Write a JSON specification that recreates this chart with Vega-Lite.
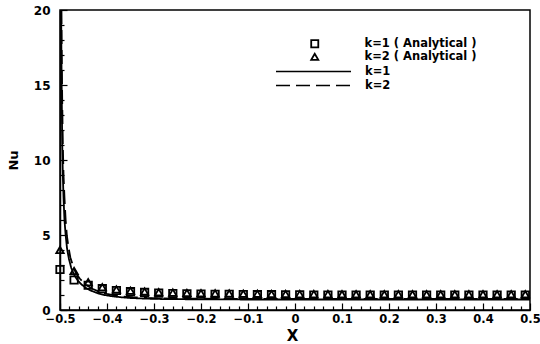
{
  "$schema": "https://vega.github.io/schema/vega-lite/v6.json",
  "width": 470,
  "height": 300,
  "autosize": {"type": "none"},
  "padding": {"left": 60, "top": 10, "right": 10, "bottom": 34},
  "background": "white",
  "config": {
    "view": {"stroke": "black", "strokeWidth": 1.5},
    "axis": {
      "labelFont": "DejaVu Sans", "labelFontWeight": "bold", "labelFontSize": 12, "labelColor": "black",
      "titleFont": "DejaVu Sans", "titleFontWeight": "bold", "titleColor": "black",
      "domainColor": "black", "domainWidth": 1.5, "tickColor": "black", "tickWidth": 1.2,
      "grid": false, "labelBound": false, "labelFlush": false
    },
    "legend": {
      "labelFont": "DejaVu Sans", "labelFontWeight": "bold", "labelFontSize": 11.5, "labelColor": "black",
      "padding": 0, "title": null
    }
  },
  "datasets": {
    "pts": [
      {"x": -0.5, "nu": 2.7, "series": "k=1 ( Analytical )"},
      {"x": -0.47, "nu": 2.0, "series": "k=1 ( Analytical )"},
      {"x": -0.44, "nu": 1.65, "series": "k=1 ( Analytical )"},
      {"x": -0.41, "nu": 1.42, "series": "k=1 ( Analytical )"},
      {"x": -0.38, "nu": 1.3, "series": "k=1 ( Analytical )"},
      {"x": -0.35, "nu": 1.22, "series": "k=1 ( Analytical )"},
      {"x": -0.32, "nu": 1.17, "series": "k=1 ( Analytical )"},
      {"x": -0.29, "nu": 1.13, "series": "k=1 ( Analytical )"},
      {"x": -0.26, "nu": 1.1, "series": "k=1 ( Analytical )"},
      {"x": -0.23, "nu": 1.08, "series": "k=1 ( Analytical )"},
      {"x": -0.2, "nu": 1.06, "series": "k=1 ( Analytical )"},
      {"x": -0.17, "nu": 1.05, "series": "k=1 ( Analytical )"},
      {"x": -0.14, "nu": 1.04, "series": "k=1 ( Analytical )"},
      {"x": -0.11, "nu": 1.03, "series": "k=1 ( Analytical )"},
      {"x": -0.08, "nu": 1.02, "series": "k=1 ( Analytical )"},
      {"x": -0.05, "nu": 1.02, "series": "k=1 ( Analytical )"},
      {"x": -0.02, "nu": 1.01, "series": "k=1 ( Analytical )"},
      {"x": 0.01, "nu": 1.01, "series": "k=1 ( Analytical )"},
      {"x": 0.04, "nu": 1.0, "series": "k=1 ( Analytical )"},
      {"x": 0.07, "nu": 1.0, "series": "k=1 ( Analytical )"},
      {"x": 0.1, "nu": 1.0, "series": "k=1 ( Analytical )"},
      {"x": 0.13, "nu": 1.0, "series": "k=1 ( Analytical )"},
      {"x": 0.16, "nu": 1.0, "series": "k=1 ( Analytical )"},
      {"x": 0.19, "nu": 1.0, "series": "k=1 ( Analytical )"},
      {"x": 0.22, "nu": 1.0, "series": "k=1 ( Analytical )"},
      {"x": 0.25, "nu": 1.0, "series": "k=1 ( Analytical )"},
      {"x": 0.28, "nu": 1.0, "series": "k=1 ( Analytical )"},
      {"x": 0.31, "nu": 1.0, "series": "k=1 ( Analytical )"},
      {"x": 0.34, "nu": 1.0, "series": "k=1 ( Analytical )"},
      {"x": 0.37, "nu": 1.0, "series": "k=1 ( Analytical )"},
      {"x": 0.4, "nu": 1.0, "series": "k=1 ( Analytical )"},
      {"x": 0.43, "nu": 1.0, "series": "k=1 ( Analytical )"},
      {"x": 0.46, "nu": 1.0, "series": "k=1 ( Analytical )"},
      {"x": 0.49, "nu": 1.0, "series": "k=1 ( Analytical )"},
      {"x": -0.5, "nu": 4.0, "series": "k=2 ( Analytical )"},
      {"x": -0.47, "nu": 2.6, "series": "k=2 ( Analytical )"},
      {"x": -0.44, "nu": 1.85, "series": "k=2 ( Analytical )"},
      {"x": -0.41, "nu": 1.52, "series": "k=2 ( Analytical )"},
      {"x": -0.38, "nu": 1.37, "series": "k=2 ( Analytical )"},
      {"x": -0.35, "nu": 1.29, "series": "k=2 ( Analytical )"},
      {"x": -0.32, "nu": 1.23, "series": "k=2 ( Analytical )"},
      {"x": -0.29, "nu": 1.19, "series": "k=2 ( Analytical )"},
      {"x": -0.26, "nu": 1.16, "series": "k=2 ( Analytical )"},
      {"x": -0.23, "nu": 1.14, "series": "k=2 ( Analytical )"},
      {"x": -0.2, "nu": 1.12, "series": "k=2 ( Analytical )"},
      {"x": -0.17, "nu": 1.11, "series": "k=2 ( Analytical )"},
      {"x": -0.14, "nu": 1.1, "series": "k=2 ( Analytical )"},
      {"x": -0.11, "nu": 1.09, "series": "k=2 ( Analytical )"},
      {"x": -0.08, "nu": 1.08, "series": "k=2 ( Analytical )"},
      {"x": -0.05, "nu": 1.07, "series": "k=2 ( Analytical )"},
      {"x": -0.02, "nu": 1.07, "series": "k=2 ( Analytical )"},
      {"x": 0.01, "nu": 1.06, "series": "k=2 ( Analytical )"},
      {"x": 0.04, "nu": 1.06, "series": "k=2 ( Analytical )"},
      {"x": 0.07, "nu": 1.06, "series": "k=2 ( Analytical )"},
      {"x": 0.1, "nu": 1.05, "series": "k=2 ( Analytical )"},
      {"x": 0.13, "nu": 1.05, "series": "k=2 ( Analytical )"},
      {"x": 0.16, "nu": 1.05, "series": "k=2 ( Analytical )"},
      {"x": 0.19, "nu": 1.05, "series": "k=2 ( Analytical )"},
      {"x": 0.22, "nu": 1.05, "series": "k=2 ( Analytical )"},
      {"x": 0.25, "nu": 1.05, "series": "k=2 ( Analytical )"},
      {"x": 0.28, "nu": 1.05, "series": "k=2 ( Analytical )"},
      {"x": 0.31, "nu": 1.05, "series": "k=2 ( Analytical )"},
      {"x": 0.34, "nu": 1.05, "series": "k=2 ( Analytical )"},
      {"x": 0.37, "nu": 1.05, "series": "k=2 ( Analytical )"},
      {"x": 0.4, "nu": 1.05, "series": "k=2 ( Analytical )"},
      {"x": 0.43, "nu": 1.05, "series": "k=2 ( Analytical )"},
      {"x": 0.46, "nu": 1.05, "series": "k=2 ( Analytical )"},
      {"x": 0.49, "nu": 1.05, "series": "k=2 ( Analytical )"}
    ],
    "curves": [
      {"x": -0.4975, "nu": 20, "curve": "k=1"},
      {"x": -0.497, "nu": 17, "curve": "k=1"},
      {"x": -0.4962, "nu": 14, "curve": "k=1"},
      {"x": -0.4952, "nu": 11, "curve": "k=1"},
      {"x": -0.494, "nu": 9, "curve": "k=1"},
      {"x": -0.4925, "nu": 7.5, "curve": "k=1"},
      {"x": -0.4905, "nu": 6, "curve": "k=1"},
      {"x": -0.488, "nu": 5, "curve": "k=1"},
      {"x": -0.485, "nu": 4.1, "curve": "k=1"},
      {"x": -0.481, "nu": 3.4, "curve": "k=1"},
      {"x": -0.476, "nu": 2.8, "curve": "k=1"},
      {"x": -0.47, "nu": 2.35, "curve": "k=1"},
      {"x": -0.463, "nu": 2.0, "curve": "k=1"},
      {"x": -0.455, "nu": 1.72, "curve": "k=1"},
      {"x": -0.445, "nu": 1.48, "curve": "k=1"},
      {"x": -0.435, "nu": 1.3, "curve": "k=1"},
      {"x": -0.42, "nu": 1.12, "curve": "k=1"},
      {"x": -0.405, "nu": 1.0, "curve": "k=1"},
      {"x": -0.39, "nu": 0.92, "curve": "k=1"},
      {"x": -0.37, "nu": 0.85, "curve": "k=1"},
      {"x": -0.35, "nu": 0.8, "curve": "k=1"},
      {"x": -0.32, "nu": 0.76, "curve": "k=1"},
      {"x": -0.28, "nu": 0.73, "curve": "k=1"},
      {"x": -0.2, "nu": 0.71, "curve": "k=1"},
      {"x": -0.1, "nu": 0.7, "curve": "k=1"},
      {"x": 0.0, "nu": 0.7, "curve": "k=1"},
      {"x": 0.2, "nu": 0.7, "curve": "k=1"},
      {"x": 0.5, "nu": 0.7, "curve": "k=1"},
      {"x": -0.497, "nu": 20, "curve": "k=2"},
      {"x": -0.4963, "nu": 17, "curve": "k=2"},
      {"x": -0.4953, "nu": 14, "curve": "k=2"},
      {"x": -0.494, "nu": 11, "curve": "k=2"},
      {"x": -0.4925, "nu": 9, "curve": "k=2"},
      {"x": -0.4905, "nu": 7.5, "curve": "k=2"},
      {"x": -0.488, "nu": 6, "curve": "k=2"},
      {"x": -0.4855, "nu": 5, "curve": "k=2"},
      {"x": -0.482, "nu": 4.2, "curve": "k=2"},
      {"x": -0.478, "nu": 3.5, "curve": "k=2"},
      {"x": -0.472, "nu": 2.9, "curve": "k=2"},
      {"x": -0.466, "nu": 2.45, "curve": "k=2"},
      {"x": -0.458, "nu": 2.1, "curve": "k=2"},
      {"x": -0.45, "nu": 1.82, "curve": "k=2"},
      {"x": -0.44, "nu": 1.58, "curve": "k=2"},
      {"x": -0.43, "nu": 1.4, "curve": "k=2"},
      {"x": -0.415, "nu": 1.2, "curve": "k=2"},
      {"x": -0.4, "nu": 1.07, "curve": "k=2"},
      {"x": -0.385, "nu": 0.98, "curve": "k=2"},
      {"x": -0.365, "nu": 0.9, "curve": "k=2"},
      {"x": -0.345, "nu": 0.85, "curve": "k=2"},
      {"x": -0.315, "nu": 0.8, "curve": "k=2"},
      {"x": -0.28, "nu": 0.77, "curve": "k=2"},
      {"x": -0.2, "nu": 0.75, "curve": "k=2"},
      {"x": -0.1, "nu": 0.74, "curve": "k=2"},
      {"x": 0.0, "nu": 0.74, "curve": "k=2"},
      {"x": 0.2, "nu": 0.74, "curve": "k=2"},
      {"x": 0.5, "nu": 0.74, "curve": "k=2"}
    ]
  },
  "layer": [
    {
      "data": {"name": "curves"},
      "mark": {"type": "line", "color": "black", "strokeWidth": 1.8, "clip": true},
      "encoding": {
        "x": {
          "field": "x", "type": "quantitative",
          "scale": {"domain": [-0.5, 0.5], "nice": false, "zero": false},
          "axis": {
            "title": "X", "titleFontSize": 15, "titleX": 232, "titleY": 25, "titleBaseline": "middle",
            "values": [-0.5,-0.48,-0.46,-0.44,-0.42,-0.4,-0.38,-0.36,-0.34,-0.32,-0.3,-0.28,-0.26,-0.24,-0.22,-0.2,-0.18,-0.16,-0.14,-0.12,-0.1,-0.08,-0.06,-0.04,-0.02,0,0.02,0.04,0.06,0.08,0.1,0.12,0.14,0.16,0.18,0.2,0.22,0.24,0.26,0.28,0.3,0.32,0.34,0.36,0.38,0.4,0.42,0.44,0.46,0.48,0.5],
            "tickCount": 200,
            "ticks": true,
            "tickSize": {"condition": {"test": "abs(datum.value*10 - round(datum.value*10)) < 0.000001", "value": -7}, "value": -4},
            "labelOverlap": false,
            "labelFontSize": 11.5,
            "labelExpr": "abs(datum.value*10 - round(datum.value*10)) < 0.000001 ? (abs(datum.value) < 0.000001 ? '0' : format(datum.value, '.1f')) : ''",
            "labelPadding": 10
          }
        },
        "y": {
          "field": "nu", "type": "quantitative",
          "scale": {"domain": [0, 20], "nice": false},
          "axis": {
            "title": "Nu", "titleFontSize": 13, "titleAngle": -90, "titleX": -47, "titleY": 150, "titleAlign": "center", "titleBaseline": "middle",
            "values": [0,1,2,3,4,5,6,7,8,9,10,11,12,13,14,15,16,17,18,19,20],
            "tickCount": 200,
            "ticks": true,
            "tickSize": {"condition": {"test": "datum.value % 5 === 0", "value": -7}, "value": -4},
            "labelOverlap": false,
            "labelExpr": "datum.value % 5 === 0 ? format(datum.value, 'd') : ''",
            "labelPadding": 17
          }
        },
        "strokeDash": {
          "field": "curve", "type": "nominal",
          "scale": {"domain": ["k=1", "k=2"], "range": [[1, 0], [14, 6]]},
          "legend": {
            "orient": "none", "legendX": 245, "legendY": 53,
            "symbolType": "M-5,0H5", "symbolSize": 225, "symbolStrokeWidth": 1.6,
            "symbolStrokeColor": "black", "symbolFillColor": "transparent",
            "labelOffset": 43, "rowPadding": 0
          }
        }
      }
    },
    {
      "data": {"name": "pts"},
      "mark": {"type": "point", "color": "black", "filled": false, "strokeWidth": 1.8, "opacity": 1},
      "encoding": {
        "x": {"field": "x", "type": "quantitative"},
        "y": {"field": "nu", "type": "quantitative"},
        "shape": {
          "field": "series", "type": "nominal",
          "scale": {"domain": ["k=1 ( Analytical )", "k=2 ( Analytical )"], "range": ["square", "triangle-up"]},
          "legend": {
            "orient": "none", "legendX": 249, "legendY": 28,
            "symbolSize": 50, "symbolStrokeWidth": 1.8, "symbolStrokeColor": "black", "symbolFillColor": "transparent",
            "labelOffset": 44, "rowPadding": -2
          }
        },
        "size": {"value": 55}
      }
    }
  ]
}
